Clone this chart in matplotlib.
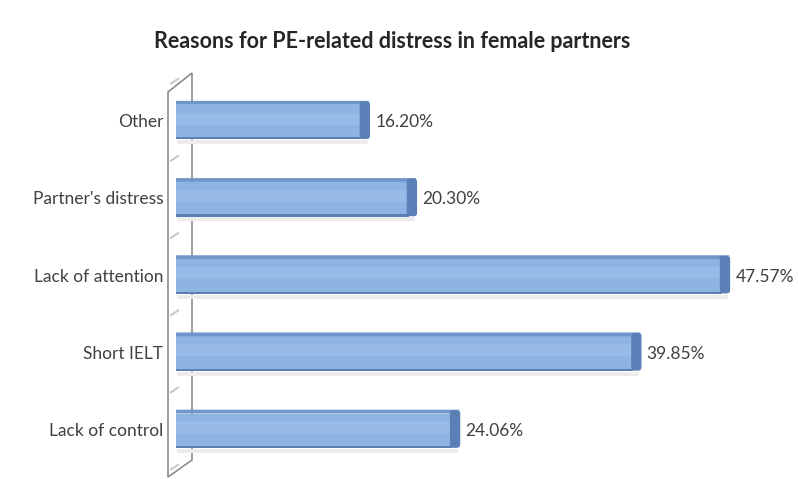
import matplotlib.pyplot as plt
from matplotlib.patches import Polygon, FancyBboxPatch
import numpy as np

categories = ['Lack of control', 'Short IELT', 'Lack of attention', "Partner's distress", 'Other']
values = [24.06, 39.85, 47.57, 20.30, 16.20]
title = 'Reasons for PE-related distress in female partners'

W, H = 798, 479
fig = plt.figure(figsize=(W / 100, H / 100), dpi=100)

# axes placed in pixels: x0=176, 1% = 11.48 px, y from 83.5 to 469.5
ax_left, ax_right = 176, 176 + 50 * 11.48
ax_top, ax_bot = 83.5, 469.5
ax = fig.add_axes([ax_left / W, (H - ax_bot) / H, (ax_right - ax_left) / W, (ax_bot - ax_top) / H])
ax.set_xlim(0, 50)
ax.set_ylim(-0.5, 4.5)
ax.axis('off')

ypos = np.arange(len(categories))
bh = 0.45
face = '#8db4e2'
dark = '#5b80b8'
side = '#7096cc'
dx = 0.7    # depth in x data units
dy = 0.05   # depth in y data units

for y, v in zip(ypos, values):
    # shadow
    ax.add_patch(Polygon([(0.1, y - bh / 2 - 0.01), (v + 0.5, y - bh / 2 - 0.01),
                          (v + 0.5, y - bh / 2 - 0.06), (0.1, y - bh / 2 - 0.06)],
                         closed=True, fc='#ececec', ec='none', zorder=1))
    # front face
    ax.barh(y, v, height=bh, color=face, edgecolor='none', zorder=2)
    # soft highlight
    ax.barh(y + bh * 0.1, v, height=bh * 0.35, color='#97bbe6', edgecolor='none', zorder=2)
    # top face
    ax.add_patch(Polygon([(0, y + bh / 2), (v, y + bh / 2), (v + dx, y + bh / 2 + dy),
                          (0, y + bh / 2 + dy)], closed=True, fc=side, ec='none', zorder=3))
    # bottom edge
    ax.barh(y - bh / 2 + 0.015, v, height=0.03, color=dark, edgecolor='none', zorder=3)
    # right side cap, rounded
    ax.add_patch(FancyBboxPatch((v - 0.2, y - bh / 2 + 0.005), dx + 0.2, bh + dy - 0.01,
                                boxstyle='round,pad=0,rounding_size=0.35',
                                mutation_aspect=0.12, fc=dark, ec='none', zorder=3))
    ax.text(v + 1.15, y, f'{v:.2f}%', ha='left', va='center', fontsize=12.5,
            family='Lato', color='#404040', zorder=4)

for y, c in zip(ypos, categories):
    ax.text(-1.1, y, c, ha='right', va='center', fontsize=12.5, family='Lato', color='#404040')

# side wall (parallelogram)
def px(x, y):
    return ((x - ax_left) / (ax_right - ax_left) * 50,
            4.5 - (y - ax_top) / (ax_bot - ax_top) * 5)

wall = [px(168, 92), px(192, 73), px(192, 460), px(168, 477)]
ax.add_patch(Polygon(wall, closed=True, fc='none', ec='#8c8c8c', lw=1.2, clip_on=False, zorder=0))
# faint ticks on the wall
for y in np.arange(-0.5, 4.6, 1.0):
    x0, _ = px(171, 0)
    x1, _ = px(178, 0)
    ax.plot([x0, x1], [y, y + 0.06], color='#c8c8c8', lw=1.5, clip_on=False, zorder=1)

fig.text(392 / W, 1 - 42 / H, title, ha='center', va='center', fontsize=15.5,
         fontweight='bold', family='Lato', color='#262626')

fig.savefig('out.png', dpi=100)
